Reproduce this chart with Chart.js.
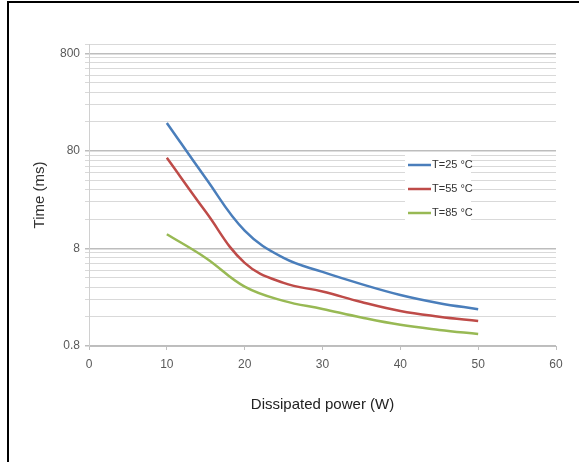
<!DOCTYPE html>
<html>
<head>
<meta charset="utf-8">
<script src="https://cdn.jsdelivr.net/npm/chart.js@4.4.1/dist/chart.umd.min.js"></script>
<style>
    html, body { margin: 0; padding: 0; background: #fff; }
    #wrap { position: relative; width: 579px; height: 462px; }
</style>
</head>
<body>
<div id="wrap"><canvas id="powerChart"></canvas></div>
<script>
// Dissipated power (W) on the x axis
const powers = [10, 15, 20, 25, 30, 35, 40, 45, 50];
// Time (ms) for each case temperature
const time25 = [155, 42, 12.2, 6.4, 4.6, 3.45, 2.67, 2.2, 1.91];
const time55 = [68, 19, 5.7, 3.55, 2.9, 2.26, 1.83, 1.6, 1.44];
const time85 = [11.2, 6.4, 3.25, 2.32, 1.92, 1.57, 1.32, 1.17, 1.06];

const seriesLabels = ['T=25 \u00B0C', 'T=55 \u00B0C', 'T=85 \u00B0C'];
const seriesColors = ['#4a7ebb', '#be4b48', '#98b954'];

// axis ticks
const xTicks = [0, 10, 20, 30, 40, 50, 60];
const yMajorTicks = [0.8, 8, 80, 800];
const yTop = 1000;

function toPoints(values) {
    return powers.map((p, i) => ({ x: p, y: values[i] }));
}

// legend sits inside the plot, on a white box
const insideLegend = {
    id: 'insideLegend',
    afterDatasetsDraw(chart) {
        const ctx = chart.ctx;
        const x0 = 405, y0 = 152;
        ctx.save();
        ctx.fillStyle = '#ffffff';
        ctx.fillRect(x0, y0, 66, 70);
        chart.data.datasets.forEach((ds, i) => {
            const y = y0 + 13 + i * 24;
            ctx.strokeStyle = ds.borderColor;
            ctx.lineWidth = 2.5;
            ctx.beginPath();
            ctx.moveTo(x0 + 3, y);
            ctx.lineTo(x0 + 26, y);
            ctx.stroke();
            ctx.fillStyle = '#333333';
            ctx.font = '11px "Liberation Sans Narrow", "Liberation Sans", Arial, sans-serif';
            ctx.textBaseline = 'middle';
            ctx.fillText(ds.label, x0 + 27, y);
        });
        ctx.restore();
    }
};

// black frame on the top and left edge of the picture
const frame = {
    id: 'frame',
    afterDraw(chart) {
        const ctx = chart.ctx;
        ctx.save();
        ctx.strokeStyle = '#000';
        ctx.lineWidth = 2;
        ctx.beginPath();
        ctx.moveTo(8, 462);
        ctx.lineTo(8, 2);
        ctx.lineTo(579, 2);
        ctx.stroke();
        ctx.restore();
    }
};

const ctx = document.getElementById('powerChart').getContext('2d');
new Chart(ctx, {
    type: 'line',
    data: {
        datasets: [time25, time55, time85].map((vals, i) => ({
            label: seriesLabels[i],
            data: toPoints(vals),
            borderColor: seriesColors[i],
            backgroundColor: seriesColors[i],
            borderWidth: 2.5,
            pointRadius: 0,
            tension: 0.4,
            fill: false
        }))
    },
    options: {
        responsive: true,
        maintainAspectRatio: false,
        animation: false,
        layout: { padding: { left: 0, top: 44, right: 23, bottom: 0 } },
        plugins: {
            legend: { display: false },
            tooltip: { enabled: false }
        },
        scales: {
            x: {
                type: 'linear',
                min: 0,
                max: 60,
                afterBuildTicks: scale => { scale.ticks = xTicks.map(v => ({ value: v })); },
                afterFit: scale => { scale.height = 116; },
                grid: { drawOnChartArea: false, drawTicks: true, tickLength: 4, color: '#bfbfbf' },
                border: { color: '#bfbfbf' },
                ticks: { color: '#595959', font: { size: 12, family: 'Arial, "Liberation Sans", sans-serif' }, padding: 7, maxRotation: 0 },
                title: {
                    display: true,
                    text: 'Dissipated power (W)',
                    color: '#222',
                    font: { size: 15, family: 'Arial, "Liberation Sans", sans-serif' },
                    padding: { top: 0, bottom: 48 }
                }
            },
            y: {
                type: 'logarithmic',
                min: yMajorTicks[0],
                max: yTop,
                afterBuildTicks: scale => {
                    const ticks = [];
                    yMajorTicks.forEach((m, i) => {
                        ticks.push({ value: m, major: true });
                        if (i < yMajorTicks.length - 1) {
                            for (let k = 2; k <= 9; k++) ticks.push({ value: m * k });
                        }
                    });
                    ticks.push({ value: yTop });
                    scale.ticks = ticks;
                },
                afterFit: scale => { scale.width = 89; },
                grid: {
                    drawTicks: true,
                    tickLength: 4,
                    color: c => (c.tick && yMajorTicks.includes(c.tick.value)) ? '#bdbdbd' : '#d9d9d9',
                    lineWidth: c => (c.tick && yMajorTicks.includes(c.tick.value)) ? 1.5 : 1
                },
                border: { color: '#d0d0d0' },
                ticks: {
                    color: '#595959',
                    font: { size: 12, family: 'Arial, "Liberation Sans", sans-serif' },
                    padding: 5,
                    autoSkip: false,
                    callback: v => yMajorTicks.includes(v) ? String(v) : ''
                },
                title: {
                    display: true,
                    text: 'Time (ms)',
                    color: '#333',
                    font: { size: 15, family: 'Arial, "Liberation Sans", sans-serif' },
                    padding: { top: 31, bottom: 0 }
                }
            }
        }
    },
    plugins: [insideLegend, frame]
});
</script>
</body>
</html>
